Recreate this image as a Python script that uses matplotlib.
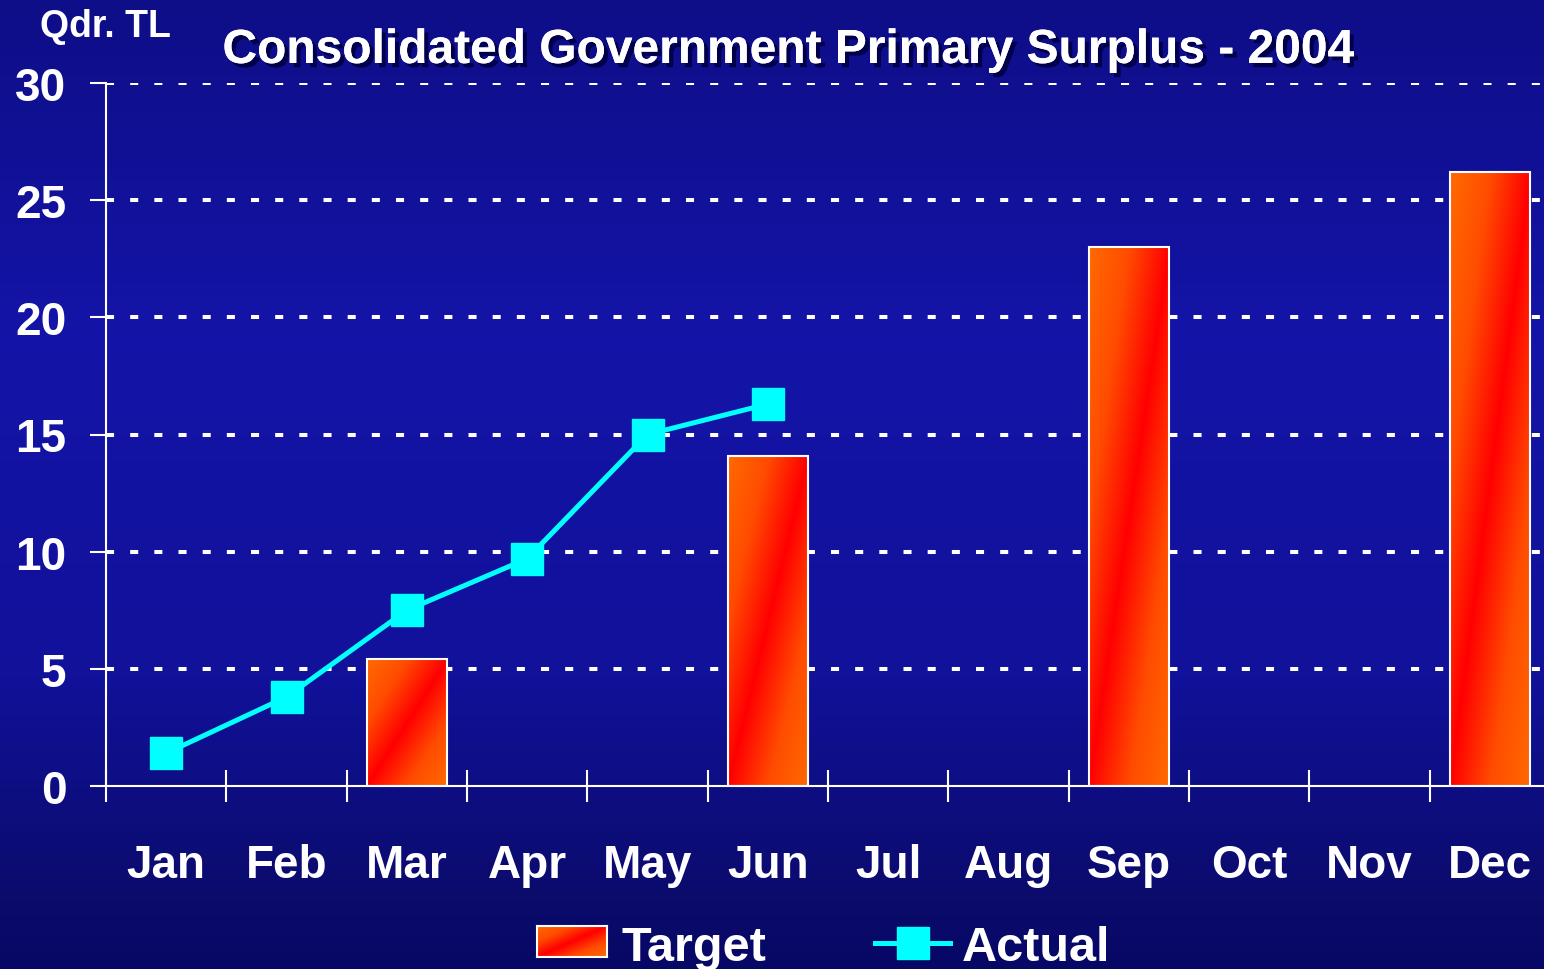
import numpy as np
import matplotlib
matplotlib.use('Agg')
import matplotlib.pyplot as plt
import matplotlib.patheffects as pe
from matplotlib.colors import LinearSegmentedColormap
from matplotlib.lines import Line2D

months = ['Jan', 'Feb', 'Mar', 'Apr', 'May', 'Jun',
          'Jul', 'Aug', 'Sep', 'Oct', 'Nov', 'Dec']
target_months = ['Mar', 'Jun', 'Sep', 'Dec']
target_values = [5.4, 14.1, 23.0, 26.2]
actual_months = ['Jan', 'Feb', 'Mar', 'Apr', 'May', 'Jun']
actual_values = [1.4, 3.8, 7.5, 9.7, 15.0, 16.3]
y_ticks = [0, 5, 10, 15, 20, 25, 30]

plt.rcParams['font.family'] = ['Liberation Sans', 'DejaVu Sans']
plt.rcParams['font.weight'] = 'bold'

W, H = 1544, 970
fig = plt.figure(figsize=(W / 100, H / 100), dpi=100)

# background: vertical navy gradient
bg = fig.add_axes([0, 0, 1, 1], zorder=-10)
bg_cmap = LinearSegmentedColormap.from_list(
  'bg', [(0, '#0e0e88'), (0.35, '#1414a8'), (0.7, '#11119a'),
         (0.93, '#0b0b6c'), (1, '#070766')])
bg.imshow(np.linspace(0, 1, 256).reshape(-1, 1), cmap=bg_cmap, aspect='auto')
bg.axis('off')

# gradient used for the bars: red along the diagonal, orange in the corners
u, v = np.meshgrid(np.linspace(0, 1, 200), np.linspace(0, 1, 200))
grad = np.abs(u - v)
bar_cmap = LinearSegmentedColormap.from_list('bar', ['#ff0000', '#ff4c00', '#ff6a00'])

ax = fig.add_axes([106 / W, 1 - 787 / H, (1550 - 106) / W, (787 - 84) / H])
ax.patch.set_alpha(0)

# dotted gridlines (not at zero, where the axis line is)
for yv in y_ticks[1:]:
  ax.axhline(yv, color='white', lw=2.9, linestyle=(0, (2, 4)), zorder=1)

tx = [months.index(m) for m in target_months]
bars = ax.bar(tx, target_values, width=0.67, color='none', edgecolor='white',
              linewidth=1.5, zorder=3)
for b in bars:
  x0, y0 = b.get_x(), b.get_y()
  im = ax.imshow(grad, cmap=bar_cmap, origin='lower', aspect='auto',
                 interpolation='bilinear', zorder=2,
                 extent=(x0, x0 + b.get_width(), y0, y0 + b.get_height()))
  im.set_clip_path(b)

axx = [months.index(m) for m in actual_months]
ax.plot(axx, actual_values, color='#00ffff', lw=3.6, marker='s', ms=23, zorder=4)

ax.set_xlim(-0.5, 11.5)
ax.set_ylim(0, 30)
ax.set_yticks(y_ticks)

ax.set_xticks(range(12))
ax.set_xticklabels(months)
ax.set_xticks(np.arange(-0.5, 12, 1), minor=True)
ax.tick_params(axis='x', which='major', length=0, pad=41, labelsize=33, labelcolor='white')
ax.tick_params(axis='x', which='minor', direction='inout', length=23, width=1.5, color='white')
ax.tick_params(axis='y', direction='out', length=11.5, width=1.5, color='white',
               labelsize=33, labelcolor='white', pad=17)
for s in ['top', 'right']:
  ax.spines[s].set_visible(False)
for s in ['left', 'bottom']:
  ax.spines[s].set_color('white')
  ax.spines[s].set_linewidth(1.5)

fig.text(788 / W, 1 - 64 / H, 'Consolidated Government Primary Surplus - 2004',
         ha='center', va='baseline', fontsize=34.5, color='white',
         path_effects=[pe.withSimplePatchShadow(offset=(3, -3), shadow_rgbFace='#00004a', alpha=1.0),
                       pe.Normal()])
fig.text(40 / W, 1 - 37 / H, 'Qdr. TL', ha='left', va='baseline', fontsize=27, color='white')

# legend
lax = fig.add_axes([537 / W, 1 - 958 / H, 70 / W, 31 / H])
lax.imshow(grad, cmap=bar_cmap, origin='lower', aspect='auto', interpolation='bilinear')
lax.set_xticks([])
lax.set_yticks([])
for s in lax.spines.values():
  s.set_color('white')
  s.set_linewidth(1.5)
fig.text(622 / W, 1 - 961 / H, 'Target', ha='left', va='baseline', fontsize=35, color='white')

ly = 1 - 944 / H
fig.add_artist(Line2D([875 / W, 950 / W], [ly, ly], color='#00ffff', lw=3.6,
                      transform=fig.transFigure))
fig.add_artist(Line2D([913 / W], [ly], color='#00ffff', marker='s', ms=23,
                      transform=fig.transFigure))
fig.text(962 / W, 1 - 961 / H, 'Actual', ha='left', va='baseline', fontsize=35, color='white')

fig.savefig('out.png', dpi=100)
